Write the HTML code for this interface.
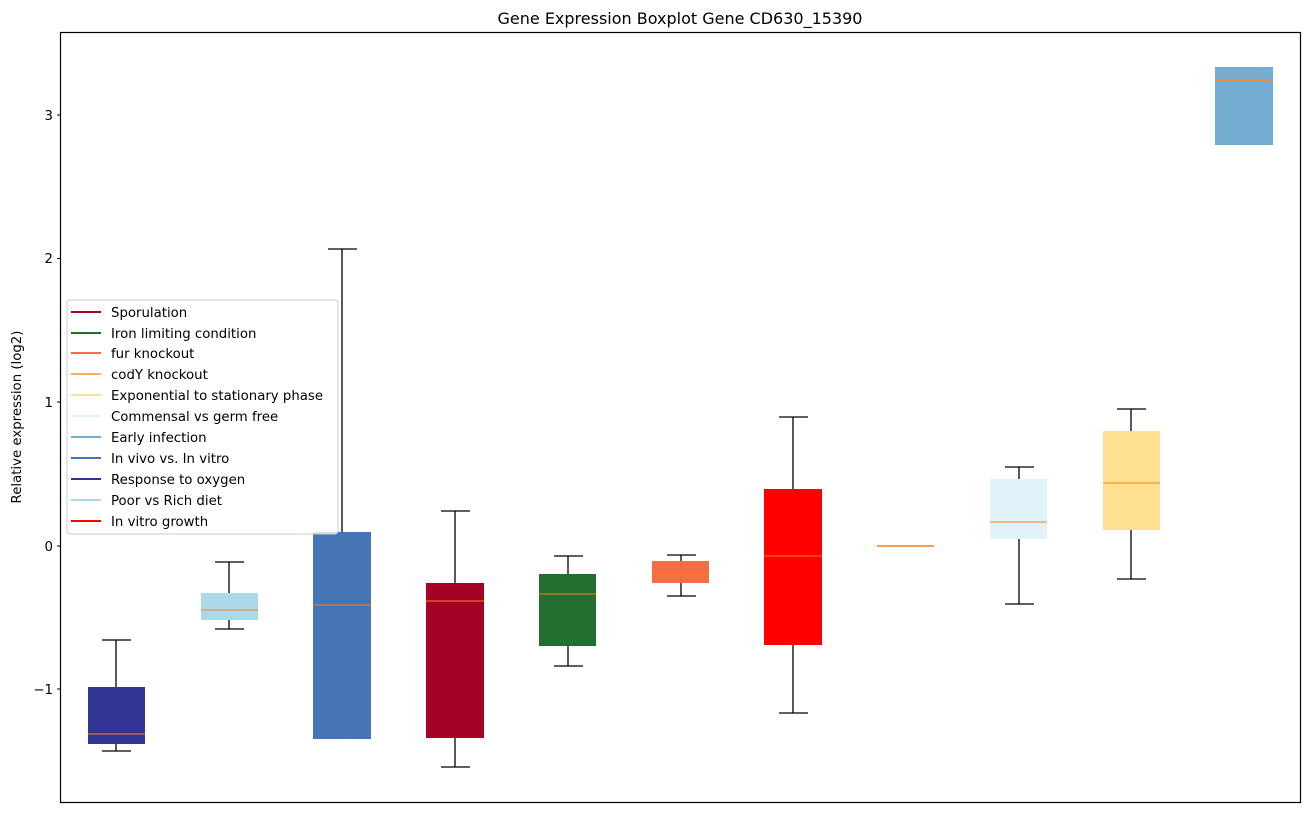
<!DOCTYPE html>
<html><head><meta charset="utf-8"><style>
body{margin:0;background:#fff}
svg text{font-family:"DejaVu Sans","Liberation Sans",sans-serif;fill:#000}
</style></head><body>
<svg width="1309" height="812" xmlns="http://www.w3.org/2000/svg">
<rect width="1309" height="812" fill="#fff"/>
<text x="680" y="24" font-size="16" text-anchor="middle">Gene Expression Boxplot Gene CD630_15390</text>
<g font-size="13.3" text-anchor="end">
<line x1="57" x2="61" y1="115" y2="115" stroke="#000"/><text x="53" y="120">3</text>
<line x1="57" x2="61" y1="258.5" y2="258.5" stroke="#000"/><text x="53" y="263">2</text>
<line x1="57" x2="61" y1="402" y2="402" stroke="#000"/><text x="53" y="407">1</text>
<line x1="57" x2="61" y1="546" y2="546" stroke="#000"/><text x="53" y="551">0</text>
<line x1="57" x2="61" y1="689" y2="689" stroke="#000"/><text x="53" y="694">−1</text>
</g>
<text transform="translate(21,417) rotate(-90)" font-size="13.3" text-anchor="middle">Relative expression (log2)</text>
<g stroke="#000" stroke-width="1.3" fill="none">
<line x1="116" x2="116" y1="640" y2="751"/><line x1="102" x2="131" y1="640" y2="640"/><line x1="102" x2="131" y1="751" y2="751"/>
<line x1="229" x2="229" y1="562" y2="629"/><line x1="215" x2="244" y1="562" y2="562"/><line x1="215" x2="244" y1="629" y2="629"/>
<line x1="342" x2="342" y1="249" y2="739"/><line x1="328" x2="357" y1="249" y2="249"/>
<line x1="455" x2="455" y1="511" y2="767"/><line x1="441" x2="470" y1="511" y2="511"/><line x1="441" x2="470" y1="767" y2="767"/>
<line x1="568" x2="568" y1="556" y2="666"/><line x1="554" x2="583" y1="556" y2="556"/><line x1="554" x2="583" y1="666" y2="666"/>
<line x1="681" x2="681" y1="555" y2="596"/><line x1="667" x2="696" y1="555" y2="555"/><line x1="667" x2="696" y1="596" y2="596"/>
<line x1="793" x2="793" y1="417" y2="713"/><line x1="779" x2="808" y1="417" y2="417"/><line x1="779" x2="808" y1="713" y2="713"/>
<line x1="1019" x2="1019" y1="467" y2="604"/><line x1="1005" x2="1034" y1="467" y2="467"/><line x1="1005" x2="1034" y1="604" y2="604"/>
<line x1="1131" x2="1131" y1="409" y2="579"/><line x1="1117" x2="1146" y1="409" y2="409"/><line x1="1117" x2="1146" y1="579" y2="579"/>
</g>
<g>
<rect x="88" y="687" width="57" height="57" fill="#313695"/><line x1="88" x2="145" y1="734" y2="734" stroke="#ff7f0e"/>
<rect x="201" y="593" width="57" height="27" fill="#abd9e9"/><line x1="201" x2="258" y1="610" y2="610" stroke="#ff7f0e"/>
<rect x="313" y="532" width="58" height="207" fill="#4575b4"/><line x1="313" x2="371" y1="605" y2="605" stroke="#ff7f0e"/>
<rect x="426" y="583" width="58" height="155" fill="#a50026"/><line x1="426" x2="484" y1="601" y2="601" stroke="#ff7f0e"/>
<rect x="539" y="574" width="57" height="72" fill="#226e2f"/><line x1="539" x2="596" y1="594" y2="594" stroke="#ff7f0e"/>
<rect x="652" y="561" width="57" height="22" fill="#f46d43"/><line x1="652" x2="709" y1="575" y2="575" stroke="#ff7f0e"/>
<rect x="764" y="489" width="58" height="156" fill="#ff0000"/><line x1="764" x2="822" y1="556" y2="556" stroke="#ff7f0e"/>
<line x1="877" x2="934" y1="546" y2="546" stroke="#ff7f0e" stroke-width="1.5"/>
<rect x="990" y="479" width="57" height="60" fill="#e0f3f8"/><line x1="990" x2="1047" y1="522" y2="522" stroke="#ff7f0e"/>
<rect x="1103" y="431" width="57" height="99" fill="#fee090"/><line x1="1103" x2="1160" y1="483" y2="483" stroke="#ff7f0e"/>
<rect x="1215" y="67" width="58" height="78" fill="#74add1"/><line x1="1215" x2="1273" y1="80" y2="80" stroke="#ff7f0e" stroke-width="1.5"/>
</g>
<rect x="67" y="300" width="271" height="234" rx="3" fill="#fff" fill-opacity="0.8" stroke="#ccc"/>
<g font-size="13.3" stroke-width="2">
<line x1="71" x2="101" y1="312" y2="312" stroke="#a50026"/><text x="111" y="317">Sporulation</text>
<line x1="71" x2="101" y1="333" y2="333" stroke="#226e2f"/><text x="111" y="338">Iron limiting condition</text>
<line x1="71" x2="101" y1="353" y2="353" stroke="#f46d43"/><text x="111" y="358">fur knockout</text>
<line x1="71" x2="101" y1="374" y2="374" stroke="#fdae61"/><text x="111" y="379">codY knockout</text>
<line x1="71" x2="101" y1="395" y2="395" stroke="#fee090"/><text x="111" y="400">Exponential to stationary phase</text>
<line x1="71" x2="101" y1="416" y2="416" stroke="#e0f3f8"/><text x="111" y="421">Commensal vs germ free</text>
<line x1="71" x2="101" y1="437" y2="437" stroke="#74add1"/><text x="111" y="442">Early infection</text>
<line x1="71" x2="101" y1="458" y2="458" stroke="#4575b4"/><text x="111" y="463">In vivo vs. In vitro</text>
<line x1="71" x2="101" y1="479" y2="479" stroke="#313695"/><text x="111" y="484">Response to oxygen</text>
<line x1="71" x2="101" y1="500" y2="500" stroke="#abd9e9"/><text x="111" y="505">Poor vs Rich diet</text>
<line x1="71" x2="101" y1="521" y2="521" stroke="#ff0000"/><text x="111" y="526">In vitro growth</text>
</g>
<rect x="60.5" y="32.5" width="1240" height="770" fill="none" stroke="#000" stroke-width="1.2"/>
</svg>
</body></html>
